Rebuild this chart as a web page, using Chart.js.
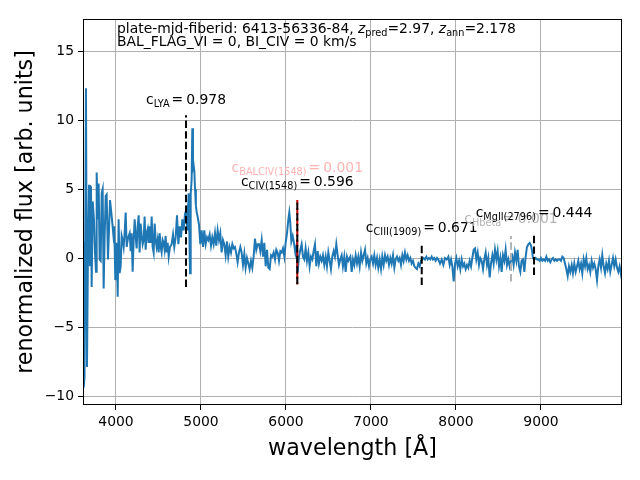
<!DOCTYPE html>
<html>
<head>
<meta charset="utf-8">
<script src="https://cdn.jsdelivr.net/npm/chart.js@4.4.1/dist/chart.umd.min.js"></script>
<style>
  html, body { margin: 0; padding: 0; background: #fff; }
</style>
</head>
<body>
<canvas id="myChart" width="640" height="480"></canvas>
<script>
// Spectrum (wavelength in A, renormalized flux)
var wave1 = [3612, 3620, 3630, 3647, 3659, 3671, 3683, 3694, 3706, 3714,
             3726, 3741, 3753, 3765, 3773, 3784, 3796, 3808, 3820, 3832,
             3843, 3855, 3867, 3879, 3890, 3906, 3918, 3930, 3941, 3953,
             3969, 3980, 3992, 4008, 4020, 4031, 4043, 4055, 4067, 4078,
             4090, 4102, 4114, 4126, 4137, 4149, 4161, 4173, 4184, 4196,
             4208, 4220, 4231, 4243, 4255, 4267, 4278, 4290, 4302, 4314,
             4325, 4337, 4349, 4361, 4373, 4384, 4396, 4408, 4420, 4431,
             4443, 4455, 4467, 4478, 4490, 4502, 4514, 4525, 4537, 4549,
             4561, 4572, 4584, 4596, 4608, 4620, 4635];
var flux1 = [1.2, -9.4, -8.6, 12.3, -7.9, 0.8, 5.3, -0.6, 5.2, -2.1,
             4.1, 2.8, 0.4, -1.0, 6.2, 2.8, 5.4, -0.1, -0.2, 4.7,
             5.0, -2.2, 1.6, 4.5, 4.6, -0.1, 2.1, 4.2, 4.2, 2.8,
             1.7, 2.3, -1.6, 1.1, -2.8, 2.8, -1.1, -0.6, 1.6, 1.3,
             0.8, 1.8, 3.3, 0.8, 1.3, 1.6, 1.8, 0.5, 1.8, -1.0,
             1.3, 2.8, 1.6, 0.7, 2.3, 3.1, 0.4, 2.5, 1.6, 1.0,
             1.3, 3.0, 0.6, 1.8, 2.1, 1.1, 2.3, 1.1, 3.0, 0.8,
             0.4, 2.5, 1.3, 0.8, 1.3, 0.4, 1.8, 0.8, 0.4, 1.3,
             1.1, 0.6, 1.6, 0.4, 1.1, 0.1, 0.8];

var wave2 = [4655, 4671, 4686, 4702, 4718, 4734, 4749, 4765, 4781, 4796,
             4812, 4828, 4839, 4855, 4871, 4879, 4890, 4898, 4906, 4914,
             4922, 4930, 4940, 4950, 4961, 4977, 4992, 5008, 5024, 5039,
             5055, 5071, 5086, 5102, 5118, 5133, 5149, 5165, 5180, 5196,
             5212, 5227, 5243, 5259, 5274, 5290, 5306, 5321, 5337, 5353,
             5369, 5384, 5400, 5416, 5431, 5447, 5463, 5478, 5494, 5510,
             5525, 5541, 5557, 5572, 5588, 5604, 5619, 5635, 5651, 5666];
var flux2 = [1.0, 1.7, 0.8, 1.5, 3.1, 1.0, 2.3, 1.5, 2.8, 2.0,
             3.2, 3.5, 2.0, 4.7, -1.1, 4.6, 5.7, 9.4, 6.5, 6.7,
             6.3, 5.0, 3.8, 3.3, 3.0, 2.4, 1.0, 2.0, 0.8, 2.0,
             1.0, 1.5, 1.3, 1.7, 0.9, 1.5, 1.0, 1.8, 0.9, 2.0,
             1.3, 1.8, 0.4, 1.3, 1.0, 0.2, 1.2, 0.1, 0.8, 0.4,
             1.0, 0.7, 0.8, 0.3, -0.3, 0.4, 0.8, 0.4, -0.5, 0.3,
             -0.7, 0.0, -0.4, -0.8, -0.2, -0.7, 0.1, 1.4, 0.6, 1.0];

var wave3 = [5683, 5698, 5714, 5730, 5745, 5761, 5777, 5792, 5808, 5824,
             5839, 5855, 5871, 5886, 5902, 5918, 5934, 5949, 5965, 5981,
             5996, 6012, 6028, 6039, 6051, 6063, 6079, 6094, 6110, 6122,
             6137, 6153, 6169, 6184, 6200, 6216, 6231, 6247, 6263, 6278,
             6294, 6310, 6325, 6341, 6357, 6373, 6388, 6404, 6420, 6435,
             6451, 6467, 6482, 6498, 6514, 6529, 6545, 6561, 6576, 6592,
             6608, 6623, 6639, 6655, 6670, 6686, 6702, 6718, 6733];
var flux3 = [1.0, 0.5, 1.3, 0.1, 1.1, -0.6, 0.6, -0.7, -0.8, 0.2,
             0.1, 0.4, -0.1, 0.6, 0.4, -0.2, 0.5, 0.4, 0.7, 0.1,
             1.1, 1.8, 2.8, 3.3, 2.5, 1.2, 1.6, 1.1, 0.4, 0.8,
             -1.0, 0.1, 0.6, 1.0, 0.1, -0.1, 0.7, -0.2, 0.4, -0.6,
             0.1, -0.1, 0.5, 1.0, -0.6, 0.5, -0.4, 0.1, -0.2, 0.2,
             -0.5, 0.1, -0.6, 0.4, -0.2, -0.8, 0.1, 0.5, 0.1, 1.0,
             0.2, -0.5, -0.1, 0.2, -0.6, 0.1, -1.0, 0.1, -0.2];

var wave4 = [6757, 6773, 6788, 6804, 6820, 6836, 6851, 6867, 6883, 6898,
             6914, 6930, 6945, 6961, 6977, 6992, 7008, 7024, 7039, 7055,
             7071, 7086, 7102, 7118, 7133, 7149, 7165, 7180, 7196, 7212,
             7228, 7243, 7259, 7275, 7290, 7306, 7322, 7337, 7353, 7369,
             7384, 7400, 7416, 7431, 7447, 7463, 7478, 7494, 7510, 7525,
             7541, 7557, 7573, 7588, 7604, 7620, 7635, 7651, 7667, 7682,
             7698, 7714, 7729, 7745, 7761, 7777, 7792];
var flux4 = [0.1, -1.0, -0.1, -0.5, 0.2, -0.4, 0.1, -0.6, 0.4, -0.2,
             0.2, 0.6, -0.4, 0.0, -0.6, -0.1, 0.1, -0.4, 0.2, -0.5,
             0.0, -0.7, -0.1, -0.8, 0.1, -0.5, 0.2, -0.2, 0.1, -0.5,
             0.0, -0.4, 0.2, -0.7, -0.1, 0.1, -0.2, 0.0, -0.5, 0.2,
             -0.2, 0.4, -0.1, 0.2, -0.2, 0.0, -0.4, -0.2, -0.6, -0.7,
             -0.8, -0.4, -0.6, -0.2, -0.1, 0.0, -0.1, 0.1, -0.1, 0.0,
             -0.1, 0.1, -0.1, 0.0, -0.2, 0.0, -0.1];

var wave5 = [7812, 7832, 7851, 7871, 7891, 7910, 7926, 7942, 7957, 7973,
             7989, 8004, 8020, 8036, 8051, 8067, 8083, 8098, 8114, 8130,
             8145, 8161, 8177, 8192, 8208, 8224, 8239, 8255, 8271, 8286,
             8302, 8318, 8333, 8349, 8365, 8380, 8396, 8412, 8428, 8443,
             8459, 8475, 8490, 8506, 8522, 8537, 8553, 8569, 8584, 8600,
             8616, 8631, 8647, 8663, 8678, 8694, 8710, 8725, 8741, 8757,
             8772, 8788, 8804, 8820, 8835, 8851, 8867, 8883, 8895, 8906];
var flux5 = [-0.4, -0.1, -0.5, 0.0, -0.1, 0.1, -0.5, -0.1, -0.6, -1.7,
             -0.4, 0.0, -0.6, -0.2, -0.8, -0.1, -0.6, -0.4, -0.8, -0.5,
             -0.7, -0.2, -0.6, 0.0, 0.6, 0.7, -0.1, 0.4, -0.5, 0.0,
             -0.2, -0.8, -0.1, 0.4, -0.5, 0.0, -1.4, -0.4, 0.2, -0.4,
             0.6, -0.1, 0.5, -0.6, 0.0, -1.0, 0.2, -0.2, 0.6, -0.5,
             -0.1, -0.6, -0.2, 0.1, -0.5, 0.4, -0.2, 0.6, -0.6, -1.0,
             -0.2, -0.1, -1.0, 0.1, 0.8, 1.0, 1.1, 0.9, 0.5, 0.0];

var wave6 = [8922, 8937, 8953, 8969, 8984, 9000, 9016, 9032, 9047, 9063,
             9079, 9094, 9110, 9126, 9141, 9157, 9173, 9188, 9204, 9220,
             9235, 9251, 9267, 9282, 9298, 9314, 9329, 9345, 9361, 9376,
             9392, 9408, 9424, 9439, 9455, 9471, 9486, 9502, 9518, 9533,
             9549, 9565, 9580, 9596, 9612, 9627, 9643, 9659, 9674, 9690,
             9706, 9721, 9737, 9753, 9768, 9784, 9800, 9815, 9831, 9847,
             9862, 9878, 9894, 9910, 9925, 9941, 9957];
var flux6 = [-0.1, 0.0, -0.1, -0.1, -0.2, 0.0, -0.2, -0.1, -0.2, 0.1,
             -0.2, -0.1, -0.3, -0.1, 0.0, -0.2, -0.1, -0.2, -0.1, -0.1,
             -0.2, 0.1, 0.0, -0.4, -0.8, -1.3, -0.6, -1.0, -0.5, -1.1,
             -0.4, -1.0, -0.6, -0.2, -0.8, -0.4, -1.1, -0.1, -0.6, 0.0,
             -0.8, -0.5, -1.0, -0.2, -0.7, -0.4, -0.8, -1.6, -0.6, -0.1,
             -0.7, 0.2, -0.6, -1.1, -0.4, -0.8, -0.2, -1.0, -0.5, 0.0,
             -0.6, -0.1, -0.7, -1.0, -0.6, -1.2, -0.8];

// Emission line markers
var lineNames = ['LYA', 'BALCIV(1548)', 'CIV(1548)', 'CIII(1909)', 'Hbeta', 'MgII(2796)'];
var lineValues = ['0.978', '0.001', '0.596', '0.671', '0.001', '0.444'];
var lineWave = [4824, 6133, 6133, 7597, 8647, 8918];
var lineTop = [10.35, 4.2, 4.2, 0.94, 1.6, 1.74];
var lineBottom = [-2.1, -1.9, -1.9, -1.95, -1.7, -1.23];
var labelY = [11.16, 6.23, 5.22, 1.88, 2.54, 2.97];

// Axis ticks
var xTicks = [4000, 5000, 6000, 7000, 8000, 9000];
var yTicks = [-10, -5, 0, 5, 10, 15];

// Header
var plateInfo = '6413-56336-84';
var zPred = '2.97';
var zAnn = '2.178';
var balInfo = 'BAL_FLAG_VI = 0, BI_CIV = 0 km/s';

// ---- styles ----
var FONT = '"DejaVu Sans", sans-serif';
var lineColors = ['#000000', '#c00000', '#000000', '#000000', '#b3b3b3', '#000000'];
var textColors = ['#000000', '#ffb3b3', '#000000', '#000000', '#b3b3b3', '#000000'];
var dashOffsets = [0, 5, 0, 0, 0, 0];
var drawOrder = [1, 3, 2, 1, 2, 1];

var allWave = wave1.concat(wave2, wave3, wave4, wave5, wave6);
var allFlux = flux1.concat(flux2, flux3, flux4, flux5, flux6);
var spectrum = allWave.map(function (w, i) { return { x: w, y: allFlux[i] }; });

var datasets = [{
  data: spectrum,
  borderColor: '#1f77b4',
  borderWidth: 2,
  pointRadius: 0,
  tension: 0,
  order: 10
}];
lineWave.forEach(function (w, i) {
  datasets.push({
    data: [{ x: w, y: lineBottom[i] }, { x: w, y: lineTop[i] }],
    borderColor: lineColors[i],
    borderWidth: 2,
    borderDash: [7.4, 3.2],
    borderDashOffset: dashOffsets[i],
    pointRadius: 0,
    order: drawOrder[i]
  });
});

// draws a run of text pieces, some as subscripts or italic
function richWidth(ctx, parts, size) {
  var w = 0;
  parts.forEach(function (p) {
    ctx.font = (p.it ? 'italic ' : '') + (p.sub ? size * 0.7 : size) + 'px ' + FONT;
    w += ctx.measureText(p.t).width + (p.gl || 0) + (p.gr || 0);
  });
  return w;
}
function drawRich(ctx, x, y, parts, color, size) {
  ctx.save();
  ctx.fillStyle = color;
  ctx.textAlign = 'left';
  ctx.textBaseline = 'alphabetic';
  parts.forEach(function (p) {
    ctx.font = (p.it ? 'italic ' : '') + (p.sub ? size * 0.7 : size) + 'px ' + FONT;
    x += p.gl || 0;
    ctx.fillText(p.t, x, y + (p.sub ? size * 0.2 : 0));
    x += ctx.measureText(p.t).width + (p.gr || 0);
  });
  ctx.restore();
}

var annotations = {
  id: 'annotations',
  afterDatasetsDraw: function (chart) {
    var ctx = chart.ctx, xs = chart.scales.x, ys = chart.scales.y, a = chart.chartArea;
    // frame
    ctx.save();
    ctx.strokeStyle = '#000';
    ctx.lineWidth = 1;
    ctx.strokeRect(a.left + 0.5, a.top + 0.5, a.right - a.left - 1, a.bottom - a.top - 1);
    ctx.restore();
    // line labels
    lineNames.forEach(function (name, i) {
      var parts = [{ t: 'c' }, { t: name, sub: true }, { t: '=', gl: 2, gr: 3 }, { t: lineValues[i] }];
      var w = richWidth(ctx, parts, 13.9);
      drawRich(ctx, xs.getPixelForValue(lineWave[i]) - w / 2, ys.getPixelForValue(labelY[i]), parts, textColors[i], 13.9);
    });
    // header
    var hx = xs.getPixelForValue(4012);
    drawRich(ctx, hx, ys.getPixelForValue(16.3), [
      { t: 'plate-mjd-fiberid: ' + plateInfo + ', ' },
      { t: 'z', it: true }, { t: 'pred', sub: true }, { t: '=' + zPred + ', ' },
      { t: 'z', it: true }, { t: 'ann', sub: true }, { t: '=' + zAnn }
    ], '#000', 13.9);
    drawRich(ctx, hx, ys.getPixelForValue(15.36), [{ t: balInfo }], '#000', 13.9);
  }
};

var gridStyle = { color: '#b0b0b0', lineWidth: 1, tickColor: '#000', tickLength: 5, tickWidth: 1 };

Chart.defaults.font.family = FONT;
Chart.defaults.font.size = 13.9;
Chart.defaults.color = '#000';

var ctx = document.getElementById('myChart');
var myChart = new Chart(ctx, {
  type: 'line',
  data: { datasets: datasets },
  options: {
    responsive: false,
    animation: false,
    devicePixelRatio: 1,
    layout: { padding: { left: 0, right: 18, top: 19, bottom: 0 } },
    plugins: { legend: { display: false }, tooltip: { enabled: false } },
    scales: {
      x: {
        type: 'linear',
        min: 3612,
        max: 9953,
        afterBuildTicks: function (s) { s.ticks = xTicks.map(function (v) { return { value: v }; }); },
        afterFit: function (s) { s.height = 75; },
        ticks: { padding: 4, maxRotation: 0, autoSkip: false, callback: function (v) { return String(v); } },
        grid: gridStyle,
        border: { display: false },
        title: { display: true, text: 'wavelength [Å]', font: { size: 22.2 }, padding: { top: 0, bottom: 17 } }
      },
      y: {
        type: 'linear',
        min: -10.65,
        max: 17.32,
        afterBuildTicks: function (s) { s.ticks = yTicks.map(function (v) { return { value: v }; }); },
        afterFit: function (s) { s.width = 83; },
        ticks: { padding: 4, callback: function (v) { return String(v).replace('-', '\u2212'); } },
        grid: gridStyle,
        border: { display: false },
        title: { display: true, text: 'renormalized flux [arb. units]', font: { size: 22.2 }, padding: { top: 13, bottom: 0 } }
      }
    }
  },
  plugins: [annotations]
});
</script>
</body>
</html>
